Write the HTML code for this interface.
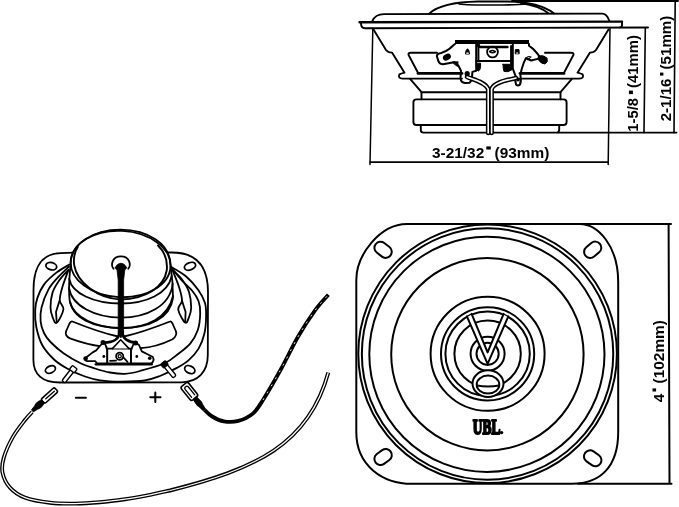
<!DOCTYPE html>
<html><head><meta charset="utf-8">
<style>
html,body{margin:0;padding:0;background:#fff;}
body{width:679px;height:507px;overflow:hidden;}
svg{display:block;filter:grayscale(1);}
.t{font-family:"Liberation Sans",sans-serif;font-weight:bold;fill:#000;stroke:none;}
</style></head>
<body>
<svg width="679" height="507" viewBox="0 0 679 507">
<g fill="none" stroke="#000" stroke-width="1.6" stroke-linejoin="round" stroke-linecap="round">
<g id="side" stroke-width="1.9">
 <path d="M429.5,13.5 C436,7.5 452,2.2 478,1.6 L508,1.6 C530,1.9 545,6.5 554,13.5" stroke-width="2"/>
 <path d="M459,4 C470,5.4 515,5.4 526,4" stroke-width="1.6"/>
 <path d="M521,3 C534,5 543,9 548,13"/>
 <path d="M512,1 L678,1"/>
 <path d="M372.4,21.2 C374,17 377,14.1 384,14.1 L602.4,13.6 C606,13.6 608,17 609.3,20.8"/>
 <path d="M359.5,22.3 L622,21.6" stroke-width="2.4"/>
 <path d="M361,23 Q361,28.3 365,28.3 L648,27.5"/>
 <path d="M622,21.6 L622,26 Q621.5,27.3 620,27.4"/>
 <!-- left half basket -->
 <g id="bhalf">
  <path d="M373.5,29.5 L386,50 Q388,52.6 392,52.6 L404.5,72.7 Q401,73.6 399.4,74.4 Q397.5,78.5 402.7,78.6 L462,78.6"/>
  <path d="M417.6,72 L408.6,55 Q407.8,52.7 411,52.7 L437,52.7"/>
  <path d="M418,73.4 L462,73.4" stroke-width="2.8"/>
  <path d="M410.1,78.8 L421.5,92.2 L488,92.2"/>
  <path d="M421.5,92.2 L421.5,99.2"/>
 </g>
 <use href="#bhalf" transform="translate(982,0) scale(-1,1)"/>
 <g id="mhalf">
  <path d="M416.5,99.4 L490,99.4 M416.5,99.4 Q413.4,99.4 413.4,102.5 L413.4,122 Q413.4,125 416.5,125 L490,125"/>
  <path d="M420.8,125 L420.8,130 Q420.8,132.6 423.5,132.6 L490,132.6"/>
 </g>
 <use href="#mhalf" transform="translate(980,0) scale(-1,1)"/>
 <path d="M558,132.6 L676.5,132.6"/>
 <!-- terminal block -->
 <path d="M455,42 L529,42" stroke-width="3.8" stroke-linecap="butt"/>
 <g stroke-width="2">
 <path d="M455,44 L453.4,45.3 Q450,49 446,51 L441.5,52.9 Q437,53.5 436.8,56 L438.5,61.5 Q440,64.3 443,64.3 L451.3,62.7 L454.5,62.1 L458.3,65.4 L461,70.8 L460.5,78.4 Q461,82.7 465,82.9 L469.7,82.7 Q472,80 471.9,78.4 L472.4,71.9 L476.2,70.8 L476.2,44"/>
 <path d="M452.5,62.5 L457.8,62 L457.6,66.2 Z" stroke-width="1.3"/>
 <path d="M478.4,44 L478.4,61"/>
 <path d="M476.2,61 L512,61"/>
 <path d="M529,44 L529,45.8 L533.4,49.1 L537.7,54 L540,57.5 L537.7,58.9 L531.2,60.5 L525.8,58.3 L523.6,63.2 L521.5,69.7 L520.4,75.1 Q521.5,81 520,84.5 Q518,86.5 516,84.5 Q514.8,81 515.6,76.2 L514,71.9 L512.8,68.6 L512.8,44"/>
 <path d="M511.1,46 L511.1,68"/>
 <path d="M526,58.3 Q528,55.5 531,57 Q529,59.5 526,58.3 Z" stroke-width="1.1"/>
 </g>
 <path d="M480,47 L507.4,47" stroke-width="2.4"/>
 <circle cx="492.5" cy="52" r="5.4" stroke-width="1.8"/>
 <path d="M489.6,51.6 Q492.5,49.6 495.4,51.6 Q492.5,54 489.6,51.6" stroke-width="1.5"/>
 <ellipse cx="446.9" cy="57.2" rx="3.3" ry="2.1" fill="#000" transform="rotate(-30 446.9 57.2)"/>
 <path d="M538.8,56 Q543,54.5 547,58 Q548.5,62 545,64 Q541,64 538.5,60 Z" fill="#000" stroke-width="1"/>
 <path d="M465.5,53.6 Q465.8,49 467.5,49 Q469.2,49 469.5,53.6 Z M515.2,53.4 L515.4,49.6 L519,49.6 L519.2,53.4 Z" fill="#000" stroke-width="1"/><path d="M466.8,53.2 L468.2,53.2 M516.6,53 L517.8,53" stroke="#fff" stroke-width="1.2"/>
 <circle cx="478.4" cy="45.5" r="1.8" fill="#000" stroke="none"/>
 <path d="M476.5,63.2 L480.5,63.2 Q481,70 478.5,71 Q476.5,71 476.5,68 Z M503,64.3 L511.7,64.3 L511.7,70 Q508,72.5 504,71.5 Q503,69 503,64.3 Z" fill="#000" stroke-width="1"/>
 <circle cx="467.2" cy="73.7" r="2.6" fill="#000" stroke="none"/>
 <circle cx="518" cy="79.5" r="1.9" fill="#000" stroke="none"/>
 <!-- wires -->
 <path d="M467,77 C474,80 485,82 488.2,89 L488.2,133" stroke-width="4.6"/>
 <path d="M516,78 C508,80 494,82 491.6,89 L491.6,133" stroke-width="4.6"/>
 <path d="M467,77 C474,80 485,82 488.2,89 L488.2,133" stroke="#fff" stroke-width="1.6"/>
 <path d="M516,78 C508,80 494,82 491.6,89 L491.6,133" stroke="#fff" stroke-width="1.6"/>
 <!-- dimension lines -->
 <path d="M372.8,29 L370,164.5 M610,27.5 L608.2,164.5" stroke-width="1.5"/><path d="M370.2,162.1 L608.3,162.1" stroke-width="1.7"/>
 <path d="M645.3,28 L644,132.6 M675.2,1 L674,132.6" stroke-width="1.6"/>
</g>
<g id="front" stroke-width="2">
<path d="M407,224 L579.6,224 C598,224 618.2,246 618.2,282 L618.2,432 C618.2,466 601,483.8 572,483.8 L412,483.8 C383,483.8 356.3,466 356.3,432 L356.3,280 C356.3,255 380,224 407,224 Z" />
<path d="M579,224 L671,224 M578,483.8 L671.5,483.8 M668.6,224 L669.5,483.8" />
<rect x="-9.3" y="-6.1" width="18.6" height="12.2" rx="6" transform="translate(383.1 249.8) rotate(38)"/>
<rect x="-9.3" y="-6.1" width="18.6" height="12.2" rx="6" transform="translate(592.7 249.8) rotate(-40)"/>
<rect x="-9.3" y="-6.1" width="18.6" height="12.2" rx="6" transform="translate(383.1 457) rotate(-36)"/>
<rect x="-9.3" y="-6.1" width="18.6" height="12.2" rx="6" transform="translate(592.7 458.3) rotate(35)"/>
<circle cx="487.6" cy="353.8" r="129.3"/>
<circle cx="487.55" cy="354" r="125.7"/>
<circle cx="486.9" cy="354.3" r="117.6"/>
<circle cx="487.4" cy="354.2" r="96.2"/>
<circle cx="487.6" cy="353.8" r="57"/>
<circle cx="487.6" cy="353.8" r="46.6"/>
<circle cx="487.6" cy="353.8" r="42.2"/>
<circle cx="487.6" cy="353.8" r="33.2"/>
<circle cx="487.6" cy="353.8" r="17"/>
<circle cx="487.6" cy="353.8" r="11.1"/>
<path d="M467.3,317 L487.6,363.8 L487.6,352.4 L471.9,314.6 Z M507.9,317 L487.6,363.8 L487.6,352.4 L503.3,314.6 Z" fill="#fff" stroke="none"/>
<path d="M466.9,316.4 L487.6,363.8 L508.3,316.4 M471.6,313.8 L487.6,352.4 L503.6,313.8" />
<ellipse cx="488" cy="383.6" rx="15.5" ry="13.3" fill="#fff"/>
<ellipse cx="488" cy="384.6" rx="11.3" ry="9"/>
<path d="M477,385.5 Q488,387.5 499,385.5" />
<text x="472.8" y="433.6" font-family="Liberation Serif" font-weight="bold" font-size="20.5" textLength="27.5" lengthAdjust="spacingAndGlyphs" fill="#000" stroke="#000" stroke-width="2.1" stroke-linejoin="round">UBL</text>
<circle cx="501.6" cy="432.6" r="1.7" fill="#000" stroke="none"/>
</g>
<g id="rear" stroke-width="1.8">
<path d="M73.2,252.7 L61,253.1 C45,253.5 33.5,262 33.5,290 L33.4,360 C33.4,374 42,382.5 60,382.5 L181.8,382.3 C198,382 207.8,372 207.8,355 L208,292 C208,266 196,252.5 172,252.5 L166,252.5" />
<ellipse cx="51.3" cy="266.2" rx="5.5" ry="3.6" transform="rotate(15 51.3 266.2)"/>
<ellipse cx="190" cy="266.3" rx="5.8" ry="3.6" transform="rotate(-20 190 266.3)"/>
<ellipse cx="50.4" cy="369.5" rx="5.3" ry="3.4" transform="rotate(-25 50.4 369.5)"/>
<ellipse cx="189.8" cy="369.6" rx="5.4" ry="3.6" transform="rotate(25 189.8 369.6)"/>
<path d="M69.4,264.5 C67.3,265.8 60.9,269.1 56.7,272.4 C52.5,275.7 47.5,279.9 44.3,284.1 C41.1,288.4 38.9,293.6 37.4,297.9 C35.9,302.2 35.4,305.1 35.2,310.0 C35.0,314.9 35.1,321.2 36.3,327.0 C37.5,332.8 39.2,339.5 42.2,345.0 C45.2,350.5 50.3,356.0 54.6,360.0 C58.9,364.0 62.9,366.2 68.0,369.0 C73.1,371.8 79.7,374.6 85.0,376.5 C90.3,378.4 94.0,379.4 100.0,380.3 C106.0,381.2 113.6,381.6 121.0,381.6 C128.4,381.6 138.1,381.4 144.6,380.5 C151.1,379.6 154.6,378.1 160.0,376.0 C165.4,373.9 172.1,370.5 176.8,367.9 C181.6,365.3 184.9,363.6 188.5,360.4 C192.1,357.2 195.9,353.1 198.6,348.6 C201.2,344.1 203.2,338.8 204.4,333.5 C205.7,328.2 206.0,321.9 206.1,316.8 C206.2,311.7 206.3,307.5 205.0,303.0 C203.7,298.5 201.5,294.5 198.3,290.0 C195.1,285.5 190.5,280.1 185.9,276.2 C181.3,272.3 173.2,268.2 170.7,266.6" />
<path d="M69.0,266.5 C67.2,268.3 61.5,273.3 58.1,277.2 C54.7,281.1 51.2,284.5 48.4,289.6 C45.6,294.7 42.8,302.3 41.5,307.6 C40.2,312.9 40.2,317.2 40.6,321.4 C41.0,325.6 42.4,329.6 44.0,333.0 C45.6,336.4 47.2,338.6 50.5,342.0 C53.8,345.4 58.4,349.7 63.5,353.3 C68.6,356.9 75.8,361.0 81.0,363.5 C86.2,366.0 90.2,367.0 95.0,368.5 C99.8,370.0 105.0,371.6 110.0,372.5 C115.0,373.4 119.8,374.1 124.8,373.9 C129.8,373.6 133.4,372.8 140.0,371.0 C146.6,369.2 158.1,366.2 164.5,363.3 C170.9,360.4 174.1,357.0 178.4,353.7 C182.7,350.4 187.0,347.5 190.2,343.6 C193.4,339.7 196.0,335.2 197.7,330.2 C199.4,325.2 200.1,318.3 200.2,313.4 C200.3,308.5 199.9,304.8 198.5,301.0 C197.1,297.2 194.8,293.9 192.0,290.5 C189.2,287.1 185.1,284.0 181.8,280.4 C178.5,276.8 173.6,270.6 172.0,268.6" />
<path d="M68.6,269.6 C67.1,271.3 62.2,276.2 59.5,280.0 C56.8,283.8 54.1,287.8 52.6,292.4 C51.1,297.0 50.5,303.5 50.5,307.6 C50.5,311.7 51.6,314.7 52.6,317.2 C53.6,319.7 54.9,324.1 56.7,322.8 C58.5,321.5 62.9,313.2 63.4,309.5 C63.9,305.8 60.0,304.2 59.8,300.5 C59.6,296.8 60.9,292.1 62.4,287.0 C63.9,281.9 67.6,272.5 68.6,269.6" />
<path d="M59.5,300.8 L56,312 L56.7,322" />
<path d="M172.3,269.6 C173.9,271.2 179.2,275.8 182.0,279.5 C184.8,283.2 187.5,287.3 189.0,292.0 C190.5,296.7 191.2,303.4 191.2,307.6 C191.2,311.8 190.0,314.7 189.0,317.2 C188.0,319.7 187.0,323.9 185.2,322.6 C183.4,321.3 178.7,313.2 178.2,309.5 C177.7,305.8 181.9,304.2 182.0,300.5 C182.1,296.8 180.6,292.1 179.0,287.0 C177.4,281.9 173.4,272.5 172.3,269.6" />
<path d="M182,300.8 L185.6,312 L185.2,322" />
<path d="M72.4,321.5 C86,327 102,333 118,336.5 L118,346 C112,346.8 106,346.8 101.5,346.3 C90,345 80,342 70,338.3 C66.5,337 64.8,334 66.2,331 L69.5,323.5 C70.2,322 71.3,321.2 72.4,321.5 Z" />
<path d="M170,321.5 C156,327 140,333 124,336.5 L124,347 C130,348 136,348.3 140.5,348.2 C152,347.5 163,344 172.5,339.3 C175.5,337 177.2,334 175.8,331 L172.5,323.5 C171.8,322 170.7,321.2 170,321.5 Z" />
<path d="M70.6,264 C70.6,244 93,229.6 120.5,229.6 C148,229.6 170.6,244 170.6,266 C172,275 173,288 173,298 C170,318 150,328 121.5,328 C93,328 72,318 69.6,300 C68.5,290 69.5,275 70.6,264 Z" fill="#fff"/>
<ellipse cx="120.6" cy="264" rx="50" ry="33.2" transform="rotate(3 120.6 264)"/>
<path d="M77.8,247 C73.5,253 73.5,262 74.4,266 C77,281 96,298.5 121,299.5 C145,299 164,288 166.8,270 C167.5,262 166,253 158,245.5" stroke-width="1.9"/>
<path d="M69.2,279 C72,293 93,303.5 121,303.5 C146,303.5 168,294 171.7,276" />
<path d="M69,288 C72,306 95,317.6 121,317.6 C147,317.6 170,306 172.7,284" />
<path d="M70,302 C74,318 97,328 121,328 C147,328 168,318 173,296" />
<path d="M113.5,268.8 C110.5,265 112,256.3 120.9,256.3 C129.8,256.3 131.3,265 128.3,268.8" />
<path d="M115,267.8 Q117,263.4 120.9,263.2 Q124.8,263.4 126.8,267.8 L124.8,270 L123.6,280 L123.6,334 L118.2,334 L118.2,280 L117,270 Z" fill="#000" stroke-width="0.8"/>
<path d="M106,341 C113,341.5 118.5,339.5 119.6,336.5 L122.2,336.5 C123.3,339.5 129,341.5 136,341 L134,350 L108,350 Z" fill="#fff" stroke="none"/>
<path d="M119.4,332 C119.4,339 113,342.6 104,342.6" stroke-width="2.8"/>
<path d="M122.4,332 C122.4,339 129,342.6 136.5,342.6" stroke-width="2.8"/>
<path d="M120.9,333 L120.9,337" stroke-width="2"/>
<path d="M103,342.5 L96.2,350.4 L92.7,352.4 L85.8,357.8 Q83.8,360.5 87,361 L95.3,361.2 L97,363.3 L107.3,363.3 L107.3,350.6 L105.2,344 Z" fill="#fff" stroke-width="1.8"/>
<path d="M135.6,342.6 L139,345 L141.8,351.4 L148,354.5 L152.8,357 Q154.8,360.5 151.5,363.3 L130.9,363.3 L130.9,350.6 L133.5,344 Z" fill="#fff" stroke-width="1.8"/>
<path d="M107.3,348.6 L130.9,348.6 L130.9,363.3 L107.3,363.3 Z" fill="#fff" stroke-width="1.8"/>
<path d="M112.4,348.6 L120.7,339.8 L129,348.6" fill="#fff" stroke-width="1.6"/>
<circle cx="119.7" cy="356.3" r="3.6"/><circle cx="119.7" cy="356.3" r="1.6" stroke-width="1.2"/>
<path d="M110,360.8 L116,360.6 M123.5,357.5 L127.5,361.8" stroke-width="1.8"/>
<path d="M95.5,364.3 L152,364.3" stroke-width="2.2"/>
<circle cx="85.6" cy="358.5" r="2.3" fill="#000" stroke="none"/>
<circle cx="103" cy="342.6" r="2.5" fill="#000" stroke="none"/>
<circle cx="103.8" cy="356.5" r="1.4" fill="#000" stroke="none"/>
<circle cx="135.5" cy="343" r="2.5" fill="#000" stroke="none"/>
<circle cx="136.8" cy="356.5" r="1.4" fill="#000" stroke="none"/>
<circle cx="149.7" cy="358.3" r="1.8" fill="#000" stroke="none"/>
<g transform="translate(68.7,375.1) rotate(-51.8)"><rect x="-8.6" y="-2" width="17.2" height="4" rx="1.5" fill="#fff" stroke-width="1.4"/><rect x="5" y="-3" width="5" height="6" rx="1" fill="#fff" stroke-width="1.4"/></g>
<g transform="translate(169.2,370.1) rotate(50.6)"><rect x="-8.6" y="-2" width="17.2" height="4" rx="1.5" fill="#fff" stroke-width="1.4"/><rect x="-10" y="-3" width="5" height="6" rx="1" fill="#000" stroke-width="1.2"/></g>
<path d="M75.8,397.8 L85.9,397.8 M150.3,397.3 L160.5,397.3 M155.3,392.6 L155.3,402" stroke-width="2"/>
<path d="M32.1,412.0 C30.9,413.3 28.3,415.7 25.0,420.0 C21.7,424.3 16.0,431.3 12.5,437.6 C9.0,443.9 5.5,451.8 3.8,457.6 C2.1,463.4 1.5,467.6 2.5,472.6 C3.5,477.6 6.2,483.4 10.0,487.6 C13.8,491.8 18.3,495.1 25.0,497.6 C31.7,500.1 41.7,501.7 50.0,502.7 C58.3,503.7 66.7,503.7 75.0,503.6 C83.3,503.5 91.6,502.9 100.0,502.2 C108.4,501.5 116.8,500.4 125.2,499.2 C133.6,498.0 142.7,496.2 150.2,494.8 C157.7,493.4 166.7,491.2 170.0,490.5 C255,469.2 308.9,444.5 328.3,372.5" stroke-width="3.9" stroke-linecap="butt"/>
<path d="M32.1,412.0 C30.9,413.3 28.3,415.7 25.0,420.0 C21.7,424.3 16.0,431.3 12.5,437.6 C9.0,443.9 5.5,451.8 3.8,457.6 C2.1,463.4 1.5,467.6 2.5,472.6 C3.5,477.6 6.2,483.4 10.0,487.6 C13.8,491.8 18.3,495.1 25.0,497.6 C31.7,500.1 41.7,501.7 50.0,502.7 C58.3,503.7 66.7,503.7 75.0,503.6 C83.3,503.5 91.6,502.9 100.0,502.2 C108.4,501.5 116.8,500.4 125.2,499.2 C133.6,498.0 142.7,496.2 150.2,494.8 C157.7,493.4 166.7,491.2 170.0,490.5 C255,469.2 308.9,444.5 328.3,372.5" stroke="#fff" stroke-width="1.2" stroke-linecap="butt"/>
<path d="M204.7,410.0 C205.9,411.1 209.0,414.6 212.2,416.5 C215.4,418.4 219.5,420.7 223.8,421.4 C228.2,422.1 233.5,422.2 238.3,420.9 C243.1,419.6 248.7,417.1 252.8,413.6 C256.9,410.1 258.4,407.3 263.0,400.0 C267.6,392.7 274.7,380.5 280.5,370.0 C286.3,359.5 292.3,346.7 298.0,336.8 C303.7,326.9 309.6,317.8 314.7,310.8 C319.8,303.8 326.1,297.4 328.4,294.7" stroke-width="3.8" stroke-linecap="butt"/>
<path d="M263.0,400.0 C265.9,395.0 274.7,380.5 280.5,370.0 C286.3,359.5 292.3,346.7 298.0,336.8 C303.7,326.9 309.6,317.8 314.7,310.8 C319.8,303.8 326.1,297.4 328.4,294.7" stroke="#fff" stroke-width="0.9" stroke-dasharray="2 6" stroke-linecap="butt"/>
<g transform="translate(49.5,395.5) rotate(-42)"><rect x="-9" y="-2.9" width="18" height="5.8" rx="1.8" fill="#fff" stroke-width="1.6"/><path d="M-5,0 L6.5,0" stroke-width="1.3"/><path d="M-9,-2.2 L-13,-3.2 Q-16,-3.4 -18,-2.2 L-23,-1.4 L-23,1.4 L-18,2.2 Q-16,3.4 -13,3.2 L-9,2.2 Z" fill="#000" stroke-width="0.8"/></g>
<g transform="translate(189.4,391.4) rotate(51)"><rect x="-8.8" y="-4.6" width="17.6" height="9.2" rx="2.2" fill="#fff" stroke-width="1.6"/><path d="M6,-2 L-4,-2 Q-6,-2 -6,0 Q-6,2 -4,2 L6,2" stroke-width="1.3"/><path d="M8.8,-2.2 L13,-2.6 Q16,-3.2 18,-2.2 L24,-1.4 L24,1.4 L18,2.2 Q16,3.2 13,2.6 L8.8,2.2 Z" fill="#000" stroke-width="0.8"/></g>
</g>
</g>
<text class="t" font-size="15.4" y="158.3"><tspan x="432">3-21/32</tspan><tspan x="494.6">(93mm)</tspan></text>
<rect x="486.3" y="146.4" width="4.5" height="3.1" fill="#000"/>
<g transform="translate(637.8,131.8) rotate(-90)"><text class="t" font-size="14.9"><tspan x="0">1-5/8</tspan><tspan x="43.8">(41mm)</tspan></text><rect x="37.7" y="-8.9" width="3.5" height="4" fill="#000"/></g>
<g transform="translate(671,121.3) rotate(-90)"><text class="t" font-size="15.1"><tspan x="0">2-1/16</tspan><tspan x="51.9">(51mm)</tspan></text><rect x="45.7" y="-11" width="3" height="3.4" fill="#000"/></g>
<g transform="translate(664.2,402.2) rotate(-90)"><text class="t" font-size="15.4"><tspan x="0">4</tspan><tspan x="18.8">(102mm)</tspan></text><rect x="10.7" y="-11.7" width="3.1" height="3.6" fill="#000"/></g>
</svg>
</body></html>
